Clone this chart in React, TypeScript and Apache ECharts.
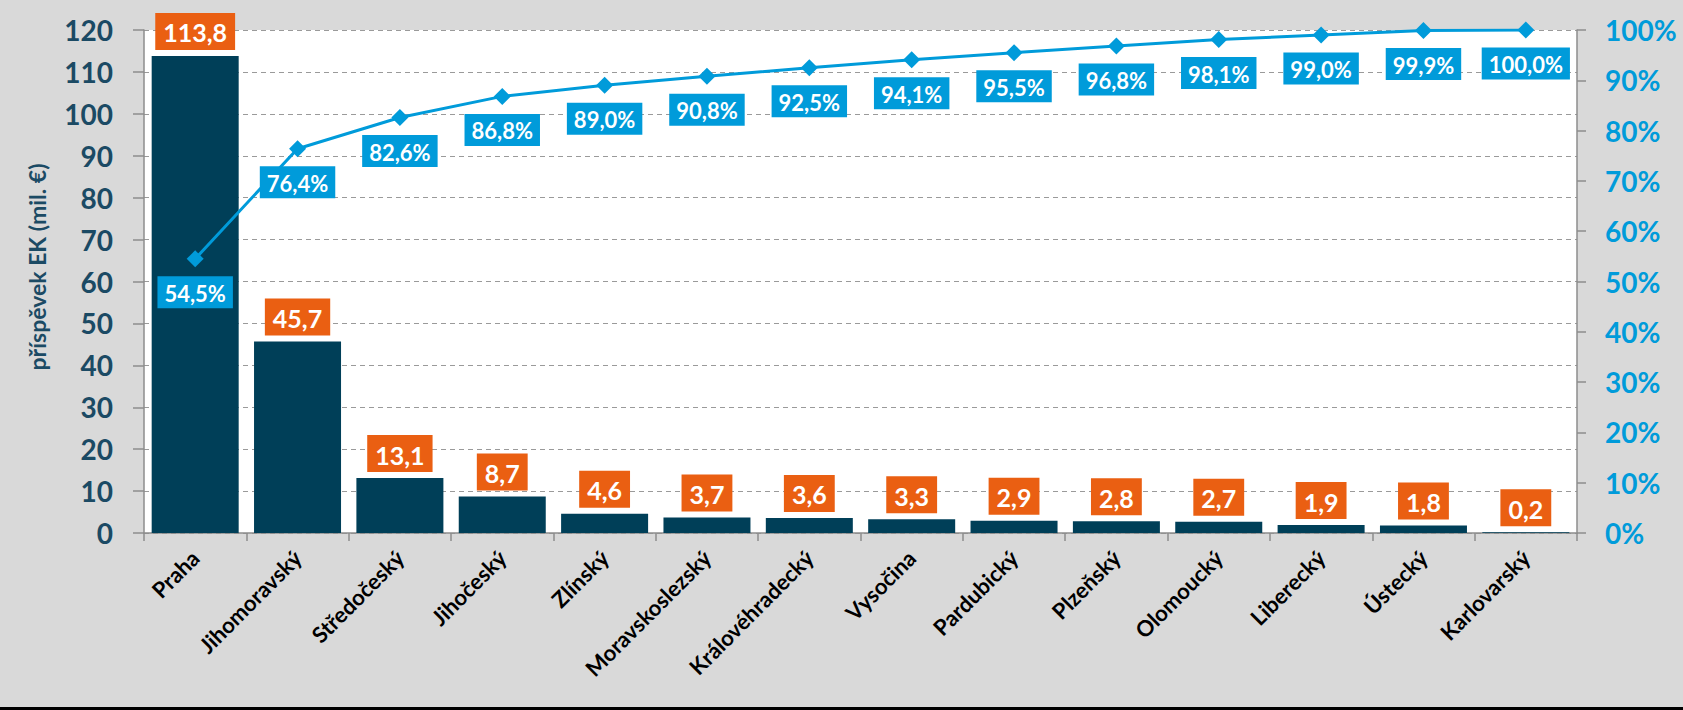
import React, { useEffect, useRef } from "react";
import * as echarts from "echarts";

const categories = [
  "Praha", "Jihomoravský", "Středočeský", "Jihočeský", "Zlínský", "Moravskoslezský",
  "Královéhradecký", "Vysočina", "Pardubický", "Plzeňský", "Olomoucký", "Liberecký",
  "Ústecký", "Karlovarský",
];
const contributions = [113.8, 45.7, 13.1, 8.7, 4.6, 3.7, 3.6, 3.3, 2.9, 2.8, 2.7, 1.9, 1.8, 0.2];
const cumulativePct = [54.5, 76.4, 82.6, 86.8, 89.0, 90.8, 92.5, 94.1, 95.5, 96.8, 98.1, 99.0, 99.9, 100.0];
const yAxisTitle = "příspěvek EK (mil. €)";

const FONT = "Lato, 'Open Sans', sans-serif";
const NAVY = "#003F58";
const ORANGE = "#EA5F12";
const BLUE = "#009BDA";
const AXIS_TEXT = "#1B4A64";
const GREY = "#8C8C8C";

export default function App() {
  const ref = useRef<HTMLDivElement>(null);
  useEffect(() => {
    if (!ref.current) return;
    const chart = echarts.init(ref.current, null, { renderer: "svg" });
    chart.setOption({
      animation: false,
      backgroundColor: "#D9D9D9",
      textStyle: { fontFamily: FONT },
      grid: {
        left: 144, right: 106, top: 30, bottom: 177,
        show: true, backgroundColor: "#FFFFFF", borderWidth: 0,
      },
      graphic: [
        { type: "rect", left: 0, top: 707, shape: { width: 1683, height: 3 }, style: { fill: "#000" } },
        {
          type: "text", x: 37, y: 267, rotation: Math.PI / 2,
          style: {
            text: yAxisTitle, align: "center", verticalAlign: "middle",
            fontFamily: FONT, fontWeight: "bold", fontSize: 23, fill: AXIS_TEXT,
          },
        },
      ],
      xAxis: {
        type: "category",
        data: categories,
        axisLine: { show: true, lineStyle: { color: GREY, width: 1.5 } },
        axisTick: { show: true, length: 8, lineStyle: { color: GREY, width: 1.5 } },
        axisLabel: {
          interval: 0, rotate: 45, margin: 21,
          fontFamily: FONT, fontWeight: "bold", fontSize: 22, color: "#000",
        },
      },
      yAxis: [
        {
          type: "value", min: 0, max: 120, interval: 10,
          axisLine: { show: true, lineStyle: { color: GREY, width: 1.5 } },
          axisTick: { show: true, length: 11, lineStyle: { color: GREY, width: 1.5 } },
          axisLabel: { margin: 31, fontFamily: FONT, fontWeight: "bold", fontSize: 28, color: AXIS_TEXT },
          splitLine: { show: true, lineStyle: { color: "#9A9A9A", type: [5, 4], width: 1 } },
        },
        {
          type: "value", min: 0, max: 100, interval: 10, position: "right",
          axisLine: { show: true, lineStyle: { color: GREY, width: 1.5 } },
          axisTick: { show: true, length: 9, lineStyle: { color: GREY, width: 1.5 } },
          axisLabel: {
            margin: 28, fontFamily: FONT, fontWeight: "bold", fontSize: 28, color: BLUE,
            formatter: (v: number) => `${v}%`,
          },
          splitLine: { show: false },
        },
      ],
      series: [
        {
          type: "bar",
          data: contributions,
          yAxisIndex: 0,
          barCategoryGap: "15%",
          itemStyle: { color: NAVY },
          label: {
            show: true, position: "top", distance: 6,
            formatter: (p: any) => String(p.value.toFixed(1)).replace(".", ","),
            backgroundColor: ORANGE, color: "#fff",
            fontFamily: FONT, fontWeight: "bold", fontSize: 25, padding: [7, 8, 5, 8],
          },
        },
        {
          type: "line",
          data: cumulativePct,
          yAxisIndex: 1,
          symbol: "diamond", symbolSize: 17,
          lineStyle: { color: BLUE, width: 3 },
          itemStyle: { color: BLUE },
          label: {
            show: true, position: "bottom", distance: 9,
            formatter: (p: any) => p.value.toFixed(1).replace(".", ",") + "%",
            backgroundColor: BLUE, color: "#fff",
            fontFamily: FONT, fontWeight: "bold", fontSize: 22, padding: [6, 7, 4, 7],
          },
        },
      ],
    });
    return () => chart.dispose();
  }, []);
  return (
    <div
      ref={ref}
      style={{ position: "fixed", left: 0, top: 0, width: 1683, height: 710 }}
    />
  );
}
